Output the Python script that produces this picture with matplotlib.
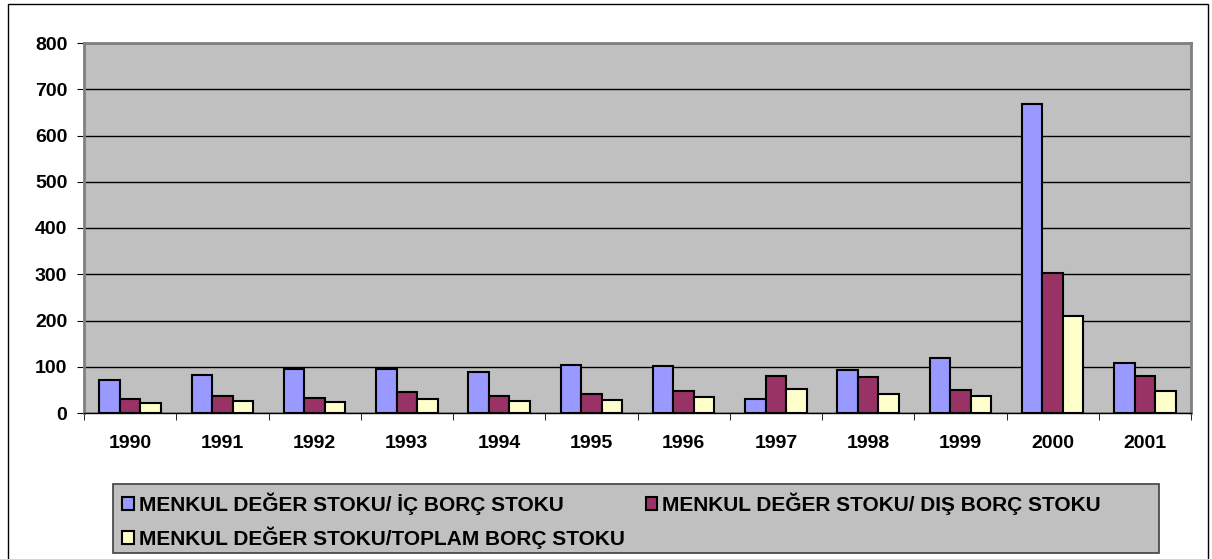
import numpy as np
import matplotlib
matplotlib.use("Agg")
from matplotlib import pyplot as plt
from matplotlib.patches import Rectangle

plt.rcParams['font.family'] = ['Liberation Sans', 'DejaVu Sans']

# data
years = ['1990', '1991', '1992', '1993', '1994', '1995',
         '1996', '1997', '1998', '1999', '2000', '2001']
ic_borc = [72, 82, 96, 95, 89, 103, 101, 30, 93, 118, 669, 109]
dis_borc = [31, 36, 33, 46, 36, 41, 48, 81, 78, 49, 303, 81]
toplam_borc = [22, 26, 24, 30, 25, 29, 34, 51, 42, 36, 209, 47]

labels = ['MENKUL DEĞER STOKU/ İÇ BORÇ STOKU',
          'MENKUL DEĞER STOKU/ DIŞ BORÇ STOKU',
          'MENKUL DEĞER STOKU/TOPLAM BORÇ STOKU']
colors = ['#9999FF', '#993366', '#FFFFCC']
yticks = [0, 100, 200, 300, 400, 500, 600, 700, 800]

W, H = 1212, 559
fig = plt.figure(figsize=(W/100, H/100), dpi=100)
ax = fig.add_axes([84/W, 1-413/H, (1191-84)/W, (413-43)/H])
ax.set_facecolor('#C0C0C0')

x = np.arange(len(years))
w = 1/4.5
bars = []
for i, (vals, c, lab) in enumerate(zip([ic_borc, dis_borc, toplam_borc], colors, labels)):
    b = ax.bar(x + (i-1)*w, vals, w, color=c, edgecolor='black', linewidth=1.5,
               label=lab, zorder=3)
    bars.append(b)

ax.set_xlim(-0.5, len(years)-0.5)
ax.set_ylim(0, 800)
ax.set_yticks(yticks)
ax.set_yticklabels([str(t) for t in yticks], fontsize=14, fontweight='bold')
ax.yaxis.grid(True, color='black', linewidth=1)
ax.set_axisbelow(True)

ax.set_xticks(x)
ax.set_xticklabels(years, fontsize=14, fontweight='bold')
ax.set_xticks(np.arange(-0.5, len(years)), minor=True)
ax.tick_params(axis='x', which='major', length=0, pad=16)
ax.tick_params(axis='x', which='minor', length=5, direction='out', color='black')
ax.tick_params(axis='y', length=5, direction='out', pad=7, color='black')

for s in ['top', 'right', 'left']:
    ax.spines[s].set_color('#808080')
    ax.spines[s].set_linewidth(2)
ax.spines['bottom'].set_color('black')
ax.spines['bottom'].set_linewidth(1)

# outer chart border
fig.patches.append(Rectangle((8/W, -0.01), 1200/W, 1.01-4/H, transform=fig.transFigure,
                             fill=False, edgecolor='black', linewidth=1))
# legend box
fig.patches.append(Rectangle((113/W, 1-553/H), (1159-113)/W, (553-484)/H,
                             transform=fig.transFigure, facecolor='#C0C0C0',
                             edgecolor='#404040', linewidth=1.2))

handles = [bars[0], bars[2], bars[1]]
leg_labels = [labels[0], labels[2], labels[1]]
leg = fig.legend(handles, leg_labels, loc='upper left',
                 bbox_to_anchor=(118/W, 1-488/H), ncol=2, frameon=False,
                 prop={'size': 15, 'weight': 'bold'}, handlelength=0.55,
                 handleheight=0.55, handletextpad=0.25, columnspacing=1.0,
                 labelspacing=0.55, borderaxespad=0, borderpad=0.2)
for h in leg.legend_handles:
    h.set_linewidth(1.5)

fig.savefig('out.png', dpi=100)
